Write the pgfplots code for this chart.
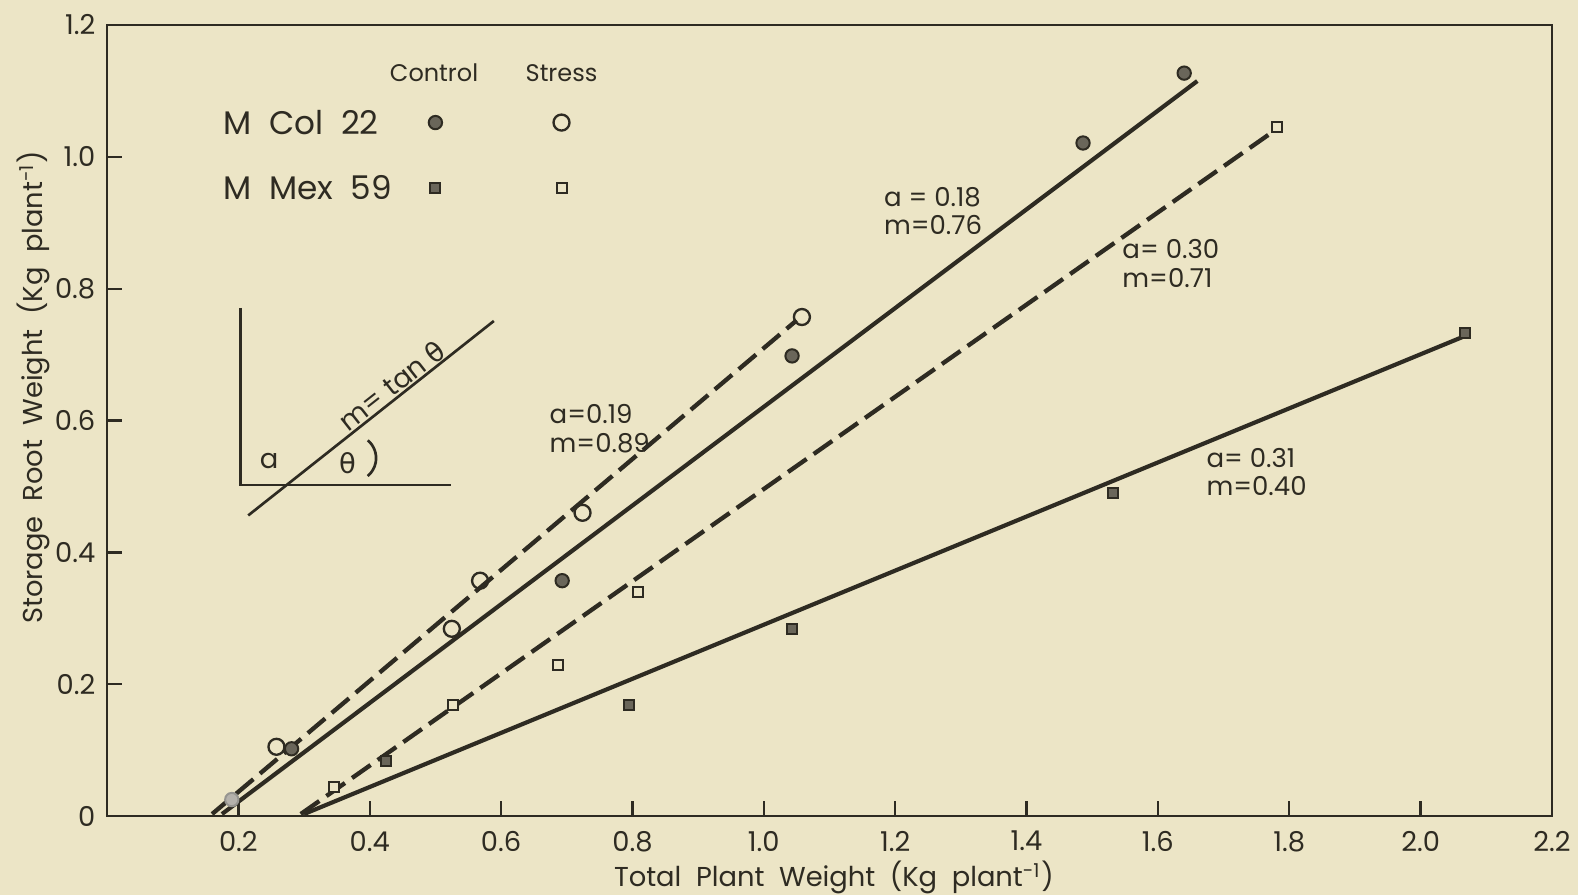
\documentclass[border=0pt]{standalone}
\usepackage{pgfplots}
\pgfplotsset{compat=1.18}
\usepackage{fontspec}
\setmainfont{Poppins}
\newfontfamily\greek{DejaVu Sans}
\definecolor{bg}{HTML}{ECE5C6}
\definecolor{ink}{HTML}{2E2B22}
\definecolor{fillg}{HTML}{6A665A}
\begin{document}
\begin{tikzpicture}[x=1pt,y=1pt]
\fill[bg] (-32.1,-23.7) rectangle (441.3,244.8);
\useasboundingbox (-32.1,-23.7) rectangle (441.3,244.8);
\begin{axis}[
  scale only axis, width=433.5pt, height=237.3pt,
  anchor=south west, at={(0,0)},
  xmin=0, xmax=2.2, ymin=0, ymax=1.2,
  axis line style={ink, line width=0.8pt},
  xtick={0.2,0.4,0.6,0.8,1.0,1.2,1.4,1.6,1.8,2.0,2.2},
  xticklabels={0.2,0.4,0.6,0.8,1.0,1.2,1.4,1.6,1.8,2.0,2.2},
  ytick={0,0.2,0.4,0.6,0.8,1.0,1.2},
  yticklabels={0,0.2,0.4,0.6,0.8,1.0,1.2},
  tick style={ink, line width=0.7pt},
  major tick length=4.5pt,
  tick align=inside,
  xtick pos=bottom, ytick pos=left,
  ticklabel style={font=\fontsize{8.2}{10}\selectfont, text=ink},
  xticklabel style={yshift=-1pt},
  yticklabel style={xshift=0pt},
  xlabel={Total\ \ Plant\ \ Weight\ \ (Kg\ \ plant\textsuperscript{-1})},
  ylabel={Storage\ \ Root\ \ Weight\ \ (Kg\ \ plant\textsuperscript{-1})},
  label style={font=\fontsize{8.2}{10}\selectfont, text=ink},
  xlabel style={at={(axis description cs:0.503,0)}, anchor=center, yshift=-18.5pt},
  ylabel style={at={(axis description cs:0,0.542)}, anchor=center, yshift=22pt},
  clip=false,
]
% regression lines
\addplot[ink, line width=1.25pt] coordinates {(0.175,0.003) (1.66,1.115)};
\addplot[ink, line width=1.3pt, dash pattern=on 6.8pt off 2.6pt] coordinates {(0.16,0.003) (1.05,0.752)};
\addplot[ink, line width=1.3pt, dash pattern=on 6.8pt off 2.6pt] coordinates {(0.295,0.003) (1.772,1.036)};
\addplot[ink, line width=1.25pt] coordinates {(0.30,0.003) (2.067,0.728)};
% M Col 22 control (filled circles)
\addplot[only marks, mark=*, mark size=2.0pt, mark options={draw=ink, fill=fillg, line width=0.6pt}] coordinates {
(1.64,1.127) (1.486,1.021) (1.043,0.698) (0.693,0.357) (0.281,0.102)};
\addplot[only marks, mark=*, mark size=2.0pt, mark options={draw=ink!50, fill=fillg!50, line width=0.6pt}] coordinates {(0.19,0.025)};
% M Col 22 stress (open circles)
\addplot[only marks, mark=o, mark size=2.4pt, mark options={draw=ink, fill=bg, line width=0.7pt}] coordinates {
(1.058,0.757) (0.724,0.46) (0.568,0.357) (0.525,0.284) (0.258,0.105)};
% M Mex 59 control (filled squares)
\addplot[only marks, mark=square*, mark size=1.5pt, mark options={draw=ink, fill=fillg, line width=0.6pt}] coordinates {
(2.067,0.733) (1.531,0.49) (1.043,0.284) (0.794,0.169) (0.425,0.083)};
% M Mex 59 stress (open squares)
\addplot[only marks, mark=square*, mark size=1.5pt, mark options={draw=ink, fill=bg, line width=0.6pt}] coordinates {
(1.782,1.046) (0.808,0.340) (0.687,0.229) (0.527,0.168) (0.345,0.044)};
% legend markers
\addplot[only marks, mark=*, mark size=2.0pt, mark options={draw=ink, fill=fillg, line width=0.6pt}] coordinates {(0.50,1.052)};
\addplot[only marks, mark=o, mark size=2.4pt, mark options={draw=ink, fill=bg, line width=0.7pt}] coordinates {(0.692,1.052)};
\addplot[only marks, mark=square*, mark size=1.5pt, mark options={draw=ink, fill=fillg, line width=0.6pt}] coordinates {(0.50,0.953)};
\addplot[only marks, mark=square*, mark size=1.5pt, mark options={draw=ink, fill=bg, line width=0.6pt}] coordinates {(0.692,0.953)};
% legend text
\node[text=ink, font=\fontsize{7.2}{9}\selectfont] at (axis cs:0.498,1.127) {Control};
\node[text=ink, font=\fontsize{7.2}{9}\selectfont] at (axis cs:0.692,1.127) {Stress};
\node[text=ink, font=\fontsize{9.8}{12}\selectfont, anchor=west, inner sep=0pt] at (axis cs:0.177,1.052) {M\ \ Col\ \ 22};
\node[text=ink, font=\fontsize{9.8}{12}\selectfont, anchor=west, inner sep=0pt] at (axis cs:0.177,0.953) {M\ \ Mex\ \ 59};
% line annotations
\node[text=ink, font=\fontsize{7.8}{8.6}\selectfont, anchor=west, align=left, inner sep=0pt] at (axis cs:1.182,0.918) {a = 0.18\\m=0.76};
\node[text=ink, font=\fontsize{7.8}{8.6}\selectfont, anchor=west, align=left, inner sep=0pt] at (axis cs:1.545,0.838) {a= 0.30\\m=0.71};
\node[text=ink, font=\fontsize{7.8}{8.6}\selectfont, anchor=west, align=left, inner sep=0pt] at (axis cs:0.673,0.588) {a=0.19\\m=0.89};
\node[text=ink, font=\fontsize{7.8}{8.6}\selectfont, anchor=west, align=left, inner sep=0pt] at (axis cs:1.673,0.522) {a= 0.31\\m=0.40};
% inset diagram
\draw[ink, line width=0.8pt] (axis cs:0.203,0.771) -- (axis cs:0.203,0.502) -- (axis cs:0.524,0.502);
\draw[ink, line width=0.8pt] (axis cs:0.215,0.456) -- (axis cs:0.589,0.751);
\node[text=ink, font=\fontsize{8.2}{10}\selectfont, inner sep=0pt] at (axis cs:0.247,0.539) {a};
\node[text=ink, font=\fontsize{8.2}{10}\selectfont\greek, inner sep=0pt] at (axis cs:0.366,0.536) {θ};
\draw[ink, line width=0.8pt] (axis cs:0.397,0.570) arc[start angle=50, end angle=-50, radius=7pt];
\node[text=ink, font=\fontsize{8.2}{10}\selectfont, rotate=38.2, anchor=south, inner sep=0pt] at (axis cs:0.444,0.640) {m= tan {\greek θ}};
\end{axis}
\end{tikzpicture}
\end{document}
